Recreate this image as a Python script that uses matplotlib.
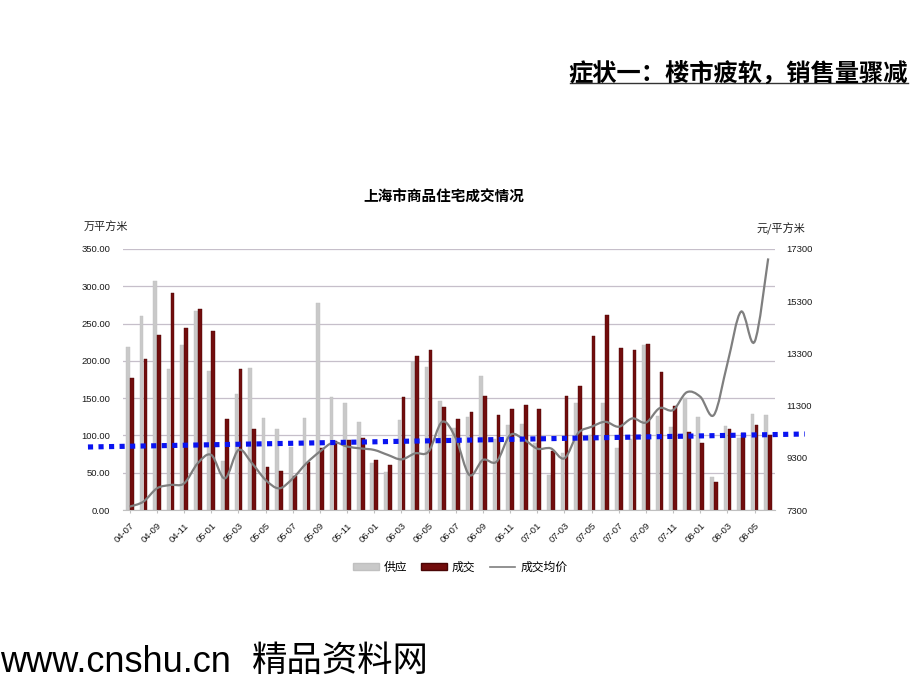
import matplotlib
matplotlib.use('Agg')
import matplotlib.pyplot as plt
import numpy as np
from matplotlib.path import Path
from matplotlib.patches import PathPatch, Patch
from matplotlib.lines import Line2D

CJK = ['Noto Sans CJK SC', 'DejaVu Sans']
LAT = ['Liberation Sans', 'DejaVu Sans']

months = ['04-07', '04-08', '04-09', '04-10', '04-11', '04-12',
          '05-01', '05-02', '05-03', '05-04', '05-05', '05-06',
          '05-07', '05-08', '05-09', '05-10', '05-11', '05-12',
          '06-01', '06-02', '06-03', '06-04', '06-05', '06-06',
          '06-07', '06-08', '06-09', '06-10', '06-11', '06-12',
          '07-01', '07-02', '07-03', '07-04', '07-05', '07-06',
          '07-07', '07-08', '07-09', '07-10', '07-11', '07-12',
          '08-01', '08-02', '08-03', '08-04', '08-05', '08-06']

# 供应 (万平方米)
supply = [219, 260, 307, 189, 221, 267, 186, 66, 155, 191,
          124, 108, 85, 123, 278, 151, 143, 118, 63, 51,
          121, 198, 192, 146, 110, 125, 180, 95, 114, 115,
          90, 47, 77, 143, 100, 143, 83, 95, 221, 126,
          111, 150, 125, 44, 112, 96, 129, 127]
# 成交 (万平方米)
deal = [177, 203, 235, 291, 244, 269, 240, 122, 189, 108,
        58, 52, 46, 64, 83, 93, 94, 96, 67, 60,
        152, 207, 215, 138, 122, 131, 153, 127, 135, 141,
        135, 79, 153, 166, 234, 262, 217, 215, 223, 185,
        139, 105, 90, 38, 109, 103, 114, 101]
# 成交均价 (元/平方米)
price = [7430, 7620, 8130, 8260, 8320, 9090, 9410, 8510, 9600, 9090,
         8450, 8130, 8510, 9090, 9540, 9890, 9730, 9660, 9600, 9410,
         9240, 9470, 9540, 10680, 10050, 8640, 9220, 9150, 10170, 10010,
         9650, 9660, 9280, 10240, 10490, 10680, 10490, 10810, 10650, 11200,
         11130, 11810, 11640, 10940, 12920, 14900, 13750, 16940]

left_ticks = [0, 50, 100, 150, 200, 250, 300, 350]
right_ticks = [7300, 9300, 11300, 13300, 15300, 17300]
# hand-drawn blue dotted trend overlay: (x in category units, y in 万平方米)
trend_x = [-3.08, 49.7]
trend_y = [84.5, 101.9]

fig = plt.figure(figsize=(9.2, 6.9), dpi=100)
fig.patch.set_facecolor('white')

ax = fig.add_axes([123/920, 1-510/690, 652/920, 261/690])
x = np.arange(len(months))
w = 0.27
off = 0.15
ax.bar(x - off, supply, width=w, color='#c9c9c9', edgecolor='#c0c0c0', linewidth=0.3, zorder=2)
ax.bar(x + off, deal, width=w, color='#720d0d', edgecolor='#4a0606', linewidth=0.3, zorder=2)
ax.set_xlim(-0.5, len(months) - 0.5)
ax.set_ylim(0, 350)
ax.set_yticks(left_ticks)
ax.set_yticklabels([f"{v:.2f}" for v in left_ticks], fontsize=6.8, family=LAT, color='#1a1a1a')
ax.yaxis.grid(True, color='#c6bfca', linewidth=0.9)
ax.set_axisbelow(True)
for s in ['left', 'right', 'top']:
    ax.spines[s].set_visible(False)
ax.spines['bottom'].set_color('#c0c0c0')
ax.tick_params(axis='y', length=0, pad=9)
ax.set_xticks(x[::2])
ax.set_xticklabels(months[::2], rotation=45, ha='right', va='top', rotation_mode='anchor',
                   fontsize=6.8, family=LAT, color='#1a1a1a')
ax.tick_params(axis='x', length=2, color='#c0c0c0', pad=6)

ax2 = ax.twinx()
ax2.set_ylim(right_ticks[0], right_ticks[-1])
ax2.set_yticks(right_ticks)
ax2.set_yticklabels([str(v) for v in right_ticks], fontsize=6.8, family=LAT, color='#1a1a1a')
ax2.tick_params(axis='y', length=0, pad=8)
for s in ['left', 'right', 'top', 'bottom']:
    ax2.spines[s].set_visible(False)

# smooth price line (Catmull-Rom as cubic Beziers through the data points)
px = x.astype(float)
py = np.array(price, dtype=float)
verts = [(px[0], py[0])]
codes = [Path.MOVETO]
n = len(px)
for i in range(n - 1):
    p0 = np.array([px[max(i-1, 0)], py[max(i-1, 0)]])
    p1 = np.array([px[i], py[i]])
    p2 = np.array([px[i+1], py[i+1]])
    p3 = np.array([px[min(i+2, n-1)], py[min(i+2, n-1)]])
    c1 = p1 + (p2 - p0) / 6.0
    c2 = p2 - (p3 - p1) / 6.0
    verts += [tuple(c1), tuple(c2), tuple(p2)]
    codes += [Path.CURVE4] * 3
ax2.add_patch(PathPatch(Path(verts, codes), facecolor='none', edgecolor='#7f7f7f',
                        linewidth=1.6, zorder=3))

# blue dotted overlay line
ax2.plot(trend_x, trend_y, transform=ax.transData, color='#0a14f0', linewidth=3.7,
         linestyle=(0, (1, 1.05)), dash_capstyle='butt', clip_on=False, zorder=5)
ax2.set_ylim(right_ticks[0], right_ticks[-1])
ax.set_xlim(-0.5, len(months) - 0.5)

# texts
fig.text(908/920, 1-74/690, '症状一：楼市疲软，销售量骤减', ha='right', va='center',
         fontsize=17.5, fontweight='bold', family=CJK, color='black')
fig.add_artist(Line2D([570/920, 908/920], [1-83/690, 1-83/690], color='#333333', linewidth=1.0))
fig.text(444/920, 1-197/690, '上海市商品住宅成交情况', ha='center', va='center',
         fontsize=10.5, fontweight='bold', family=CJK, color='black')
fig.text(84/920, 1-226/690, '万平方米', ha='left', va='center', fontsize=8, family=CJK, color='#222222')
fig.text(757/920, 1-229/690, '元/平方米', ha='left', va='center', fontsize=8, family=CJK, color='#222222')

handles = [Patch(facecolor='#c9c9c9', edgecolor='#c0c0c0'),
           Patch(facecolor='#720d0d', edgecolor='#4a0606'),
           Line2D([], [], color='#7f7f7f', linewidth=1.2)]
fig.legend(handles, ['供应', '成交', '成交均价'], loc='center', bbox_to_anchor=(460/920, 1-567/690),
           ncol=3, frameon=False, prop={'family': CJK, 'size': 8.5}, handlelength=2.2,
           handleheight=0.5, handletextpad=0.4, columnspacing=1.2)

fig.text(0/920, 1-663/690, 'www.cnshu.cn', ha='left', va='center', fontsize=26, family=LAT, color='black')
fig.text(252/920, 1-661/690, '精品资料网', ha='left', va='center', fontsize=25.5, family=CJK,
         fontweight='light', color='black')

fig.savefig('out.png', dpi=100, facecolor='white')
